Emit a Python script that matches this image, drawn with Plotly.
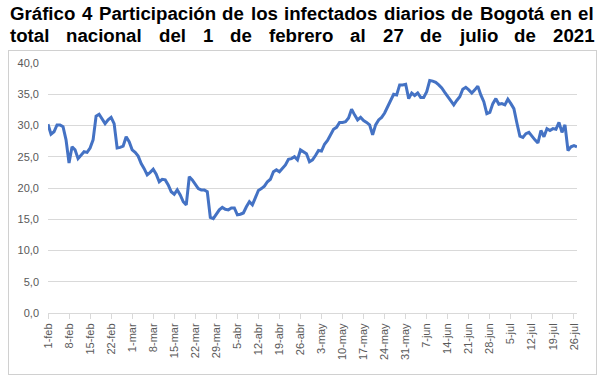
import plotly.graph_objects as go
import pandas as pd

# Daily dates 1-feb .. 27-jul 2021
dates = pd.date_range("2021-02-01", "2021-07-27").strftime("%Y-%m-%d").tolist()

participacion = [
    30.2, 28.6, 29.0, 30.1, 30.1, 29.8, 27.7, 24.0, 26.6, 26.1,
    24.7, 25.3, 25.8, 25.7, 26.4, 27.7, 31.5, 31.8, 31.1, 30.3,
    30.9, 31.3, 30.3, 26.4, 26.5, 26.7, 28.2, 27.4, 26.1, 25.7,
    25.1, 23.9, 23.1, 22.1, 22.5, 23.0, 22.2, 21.0, 21.4, 21.3,
    20.5, 19.4, 19.0, 19.7, 18.9, 17.8, 17.3, 21.8, 21.3, 20.5,
    19.9, 19.7, 19.7, 19.4, 15.3, 15.1, 15.9, 16.5, 16.9, 16.6,
    16.5, 16.8, 16.8, 15.7, 15.8, 16.0, 17.0, 17.8, 17.3, 18.6,
    19.6, 19.9, 20.3, 21.0, 21.4, 22.6, 22.9, 22.6, 23.2, 23.7,
    24.6, 24.7, 25.0, 24.5, 26.1, 25.8, 25.5, 24.2, 24.5, 25.2,
    26.0, 25.9, 27.0, 27.6, 28.5, 29.4, 29.7, 30.5, 30.5, 30.6,
    31.2, 32.6, 31.7, 30.9, 31.3, 30.8, 30.5, 30.1, 28.5, 30.1,
    30.9, 31.3, 32.0, 33.0, 34.1, 35.0, 34.9, 36.5, 36.5,
    36.6, 34.3, 35.2, 34.8, 35.2, 34.5, 34.5, 35.4, 37.2, 37.1,
    36.9, 36.5, 36.0, 35.3, 34.6, 34.0, 33.3, 34.0, 34.6, 35.8,
    36.1, 35.7, 35.2, 35.7, 36.3, 34.9, 33.8, 31.9, 32.1, 33.5,
    34.3, 33.4, 33.5, 33.3, 34.2, 33.5, 32.7, 30.4, 28.3, 28.1,
    28.7, 28.9, 28.2, 27.7, 27.2, 29.2, 28.2, 29.5, 29.2, 29.5,
    29.4, 30.5, 28.9, 30.1, 26.0, 26.6, 26.8, 26.6,
]

tick_labels = [
    "1-feb", "8-feb", "15-feb", "22-feb", "1-mar", "8-mar", "15-mar",
    "22-mar", "29-mar", "5-abr", "12-abr", "19-abr", "26-abr", "3-may",
    "10-may", "17-may", "24-may", "31-may", "7-jun", "14-jun", "21-jun",
    "28-jun", "5-jul", "12-jul", "19-jul", "26-jul",
]
y_ticks = [0, 5, 10, 15, 20, 25, 30, 35, 40]

title_line1 = ["Gráfico", "4", "Participación", "de", "los", "infectados",
               "diarios", "de", "Bogotá", "en", "el"]
title_line2 = ["total", "nacional", "del", "1", "de", "febrero", "al", "27",
               "de", "julio", "de", "2021"]

# Layout constants (pixels)
W, H = 599, 376
ML, MR, MT, MB = 48, 22, 63, 63
PW = W - ML - MR
PH = H - MT - MB

def px_x(px):
    return (px - ML) / PW

def px_y(py):
    return (H - MB - py) / PH

fig = go.Figure()
fig.add_trace(go.Scatter(
    x=dates, y=participacion, mode="lines",
    line=dict(color="#4472C4", width=3),
    hoverinfo="x+y",
))

# Justified title: word left positions (px)
line1_x = [8, 79.8, 96.6, 220.3, 248.5, 281.9, 381.7, 449.3, 477.5, 548.2, 576.4]
line2_x = [8, 64.3, 156.9, 200.8, 228.1, 266.8, 348.0, 380.5, 418.2, 456.9, 512.2, 550.9]
title_font = dict(family="Liberation Sans, Arial, sans-serif", size=18.67, color="#000000")
annotations = []

# Chart frame: bordered box annotation (chart area below the title)
annotations.append(dict(text="\u00a0", x=px_x(8), y=px_y(50), xref="paper", yref="paper",
                        xanchor="left", yanchor="top", showarrow=False,
                        width=587, height=323, bordercolor="#D0D0D0", borderwidth=1,
                        borderpad=0, bgcolor="rgba(255,255,255,0)",
                        font=dict(size=4)))

for word, xp in zip(title_line1, line1_x):
    annotations.append(dict(text="<b>%s</b>" % word, x=px_x(xp), y=px_y(13),
                            xref="paper", yref="paper", xanchor="left", yanchor="middle",
                            showarrow=False, font=title_font))
for word, xp in zip(title_line2, line2_x):
    annotations.append(dict(text="<b>%s</b>" % word, x=px_x(xp), y=px_y(36),
                            xref="paper", yref="paper", xanchor="left", yanchor="middle",
                            showarrow=False, font=title_font))

border = dict(color="#D0D0D0", width=1)
shapes = [
    dict(type="rect", xref="paper", yref="paper",
         x0=px_x(8.5), x1=px_x(596.5), y0=px_y(374.5), y1=px_y(50.5),
         line=border, layer="above"),
]

fig.update_layout(
    width=W, height=H,
    margin=dict(l=ML, r=MR, t=MT, b=MB, pad=0),
    paper_bgcolor="white", plot_bgcolor="white",
    showlegend=False,
    separators=",.",
    annotations=annotations,
    shapes=shapes,
    font=dict(family="Liberation Sans, Arial, sans-serif", size=11, color="#595959"),
)

fig.update_xaxes(
    type="category",
    range=[0, len(dates) - 1],
    tickmode="array",
    tickvals=dates[::7],
    ticktext=tick_labels,
    tickangle=-90,
    ticks="outside", ticklen=5, tickcolor="#D9D9D9",
    showline=True, linecolor="#D9D9D9", linewidth=1,
    showgrid=False, zeroline=False,
    tickfont=dict(size=11, color="#595959"),
)
fig.update_yaxes(
    range=[0, 40],
    tickvals=y_ticks,
    tickformat=".1f",
    showgrid=True, gridcolor="#D9D9D9", gridwidth=1,
    zeroline=False, showline=False,
    ticks="", ticklabelstandoff=8,
    tickfont=dict(size=11, color="#595959"),
)

fig.write_html("out.html", config={"displayModeBar": False},
               post_script="document.body.style.margin='0';document.body.style.overflow='hidden';")
